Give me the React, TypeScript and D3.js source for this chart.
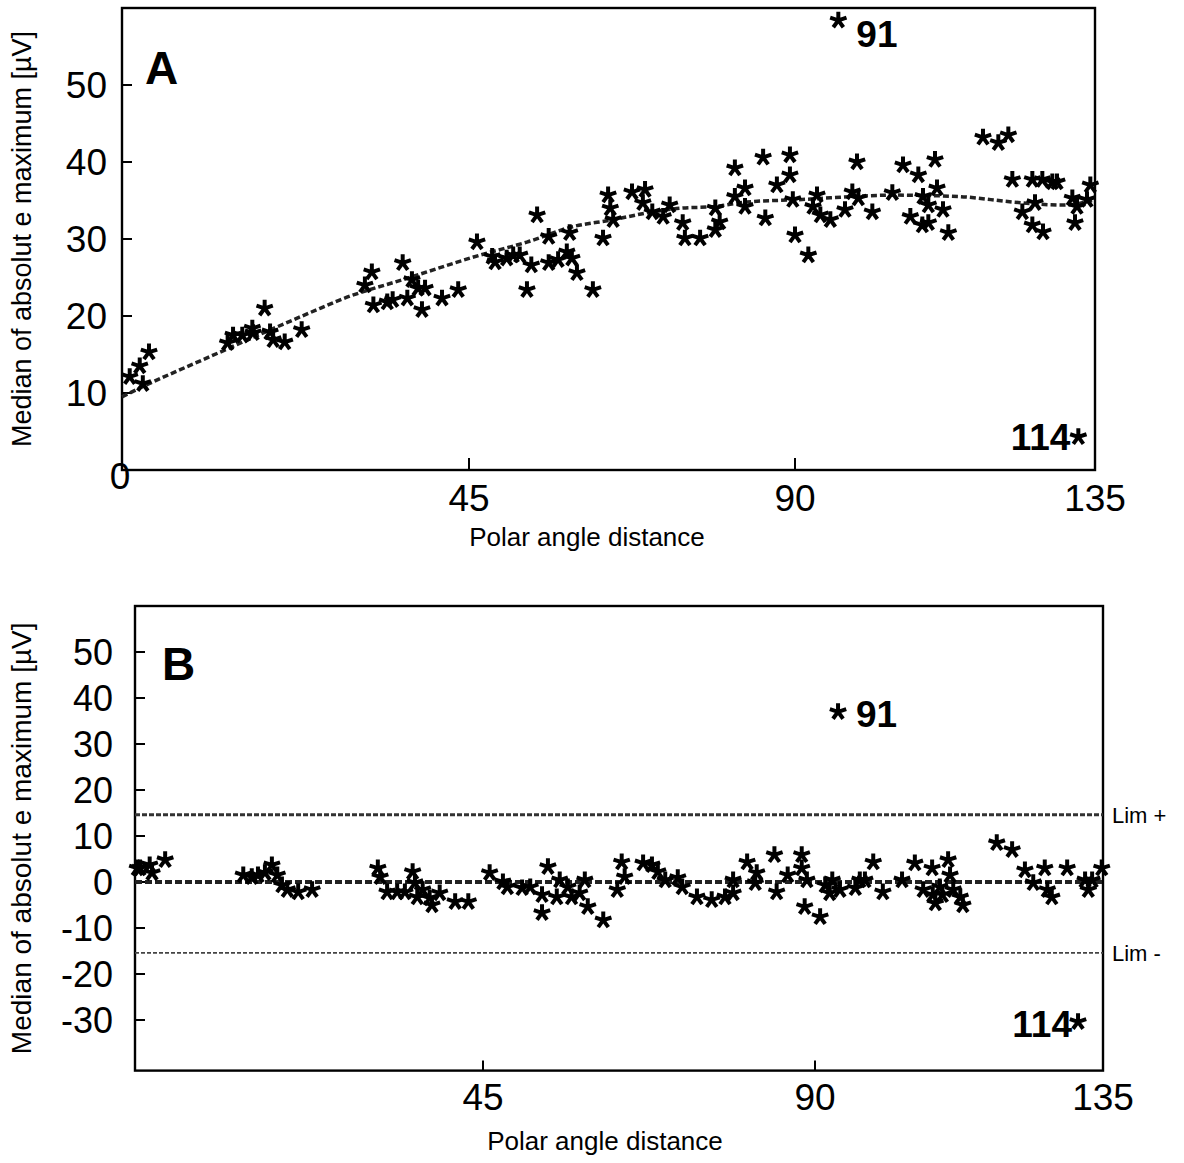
import * as d3 from "d3";

// panel A: median of absolute maximum vs polar angle distance
const angleA = [1.0, 2.3, 3.5, 2.7, 13.7, 14.4, 15.6, 16.9, 17.0, 18.5, 19.2, 19.6, 21.1, 23.3, 32.4, 31.5, 36.4, 32.6, 34.4, 35.1, 37.0, 37.6, 38.4, 39.3, 38.9, 41.5, 43.6, 46.1, 48.2, 48.6, 50.2, 52.0, 53.0, 54.4, 51.1, 53.6, 56.0, 56.0, 57.3, 58.5, 58.9, 59.2, 59.9, 62.1, 63.5, 64.2, 64.5, 64.9, 67.5, 69.3, 69.0, 70.3, 71.8, 72.7, 74.5, 74.8, 76.9, 79.0, 79.6, 79.0, 81.7, 81.7, 83.1, 83.1, 85.6, 85.9, 87.5, 89.3, 89.3, 89.7, 90.0, 92.0, 93.3, 92.7, 93.8, 95.3, 97.5, 98.6, 99.3, 99.5, 101.6, 104.6, 106.2, 108.5, 111.0, 111.3, 109.2, 110.0, 112.2, 107.3, 109.1, 110.0, 113.0, 118.2, 120.5, 122.0, 122.6, 125.6, 127.1, 128.6, 129.3, 124.1, 126.0, 125.6, 127.2, 131.6, 132.3, 132.0, 134.3, 133.8];
const ampA = [12.1, 13.5, 15.3, 11.2, 16.5, 17.5, 17.5, 18.4, 17.8, 21.0, 17.9, 16.9, 16.6, 18.2, 25.7, 24.0, 26.9, 21.4, 21.8, 22.1, 22.3, 24.7, 23.6, 23.6, 20.8, 22.3, 23.4, 29.6, 27.7, 27.0, 27.5, 27.9, 23.4, 33.1, 27.9, 26.6, 30.3, 26.9, 27.3, 28.3, 30.8, 27.5, 25.6, 23.4, 30.1, 35.7, 34.0, 32.5, 36.1, 36.4, 34.7, 33.5, 32.9, 34.4, 32.1, 30.1, 30.1, 31.2, 32.2, 34.0, 39.2, 35.5, 36.6, 34.2, 40.6, 32.7, 37.0, 40.9, 38.3, 35.1, 30.5, 27.9, 35.7, 34.2, 33.1, 32.5, 33.8, 36.1, 40.0, 35.3, 33.5, 36.0, 39.6, 38.3, 40.3, 36.6, 35.5, 34.4, 33.8, 32.9, 31.8, 32.1, 30.8, 43.2, 42.5, 43.5, 37.7, 37.7, 37.7, 37.4, 37.4, 33.5, 34.7, 31.8, 30.9, 35.3, 34.2, 32.1, 37.0, 35.1];
const fitAngleA = [0, 1.0, 12.7, 25.7, 28.3, 37.0, 46.5, 53.0, 59.3, 64.9, 69.6, 74.2, 78.7, 83.4, 90.3, 105.3, 114.8, 122.7, 130.2, 135];
const fitAmpA = [9.5, 10.0, 15.3, 21.0, 22.1, 24.9, 27.9, 29.6, 31.6, 32.5, 33.4, 34.0, 34.2, 34.8, 35.1, 35.7, 35.5, 34.8, 34.4, 35.1];
const outlierIdA = ["91", "114"];
const outlierAngleA = [96.5, 132.5];
const outlierAmpA = [58.4, 4.3];

// panel B: residuals around the fitted median
const angleB = [0.3, 0.65, 1.9, 2.2, 3.9, 14.0, 15.1, 15.9, 16.8, 17.7, 18.4, 19.0, 19.7, 21.1, 22.9, 31.4, 31.7, 32.6, 33.9, 34.9, 35.9, 36.2, 36.5, 37.2, 38.1, 38.4, 39.4, 41.4, 43.1, 45.9, 47.7, 48.3, 50.3, 51.4, 53.0, 53.8, 53.0, 55.4, 55.0, 56.5, 57.0, 58.1, 58.8, 59.2, 61.3, 63.2, 63.8, 64.2, 66.7, 67.9, 68.7, 69.7, 71.4, 72.0, 74.0, 76.0, 77.8, 78.9, 78.9, 80.8, 82.1, 81.9, 84.5, 84.8, 86.3, 88.2, 88.2, 88.6, 88.9, 90.8, 91.6, 92.7, 92.3, 93.9, 96.3, 97.0, 97.8, 99.1, 100.6, 103.6, 105.6, 106.9, 108.3, 108.4, 108.8, 109.5, 109.9, 110.8, 111.1, 111.6, 112.7, 113.1, 118.4, 120.8, 122.8, 124.1, 125.9, 126.3, 127.0, 129.4, 132.2, 132.7, 133.3, 134.8];
const ampB = [3.0, 3.0, 3.7, 2.0, 4.8, 1.5, 1.1, 1.5, 2.0, 3.7, 1.5, -0.7, -1.7, -2.2, -1.7, 3.0, 1.1, -2.2, -2.2, -2.2, 2.2, -0.2, -3.3, -1.7, -3.5, -5.0, -2.4, -4.3, -4.3, 2.0, 0.0, -1.1, -1.3, -1.1, -2.8, 3.3, -6.7, 0.4, -3.3, -1.1, -3.3, -2.4, 0.4, -5.4, -8.3, -1.7, 4.3, 1.1, 4.1, 3.7, 2.2, 0.4, 0.9, -1.1, -3.3, -3.9, -3.3, -2.4, 0.4, 4.3, 2.0, -0.2, 5.9, -2.2, 1.5, 5.9, 3.0, -5.4, 0.4, -7.6, -0.7, 0.4, -2.4, -1.7, -1.3, 0.4, 0.4, 4.3, -2.2, 0.4, 4.1, -1.7, 3.0, -2.8, -4.6, -1.1, -2.8, 4.8, 1.5, -1.7, -3.3, -5.0, 8.5, 7.0, 2.6, -0.2, 3.0, -1.7, -3.3, 3.0, 0.4, -1.7, 0.4, 3.0];
const outlierIdB = ["91", "114"];
const outlierAngleB = [93.6, 131.1];
const outlierAmpB = [37.0, -30.4];
const medianB = 0;
const limPlus = 14.6;
const limMinus = -15.4;

const xTicks = [45, 90, 135];
const yTicksA = [10, 20, 30, 40, 50];
const yTicksB = [50, 40, 30, 20, 10, 0, -10, -20, -30];

const font = "'Liberation Sans', Arial, sans-serif";
const yTitle = "Median of absolut e maximum [\u00b5V]";
const xTitle = "Polar angle distance";

// 5-armed asterisk like the printed "*" glyph
const asterisk = {
  draw(ctx, size) {
    const r = Math.sqrt(size);
    for (let i = 0; i < 5; i++) {
      const a = -Math.PI / 2 + (i * 2 * Math.PI) / 5;
      ctx.moveTo(0, 0);
      ctx.lineTo(r * Math.cos(a), r * Math.sin(a));
    }
  },
};
const starPath = d3.symbol(asterisk, 74)();

function Stars({ xs, ys, x, y }) {
  return (
    <g fill="none" stroke="#000" strokeWidth={4}>
      {xs.map((v, i) => (
        <path key={i} d={starPath} transform={`translate(${x(v)},${y(ys[i])})`} />
      ))}
    </g>
  );
}

function PanelA() {
  const x = d3.scaleLinear().domain([0, 45, 90, 135]).range([122, 469, 795, 1095]);
  const y = d3.scaleLinear().domain([0, 60]).range([470, 8]);
  const fit = d3
    .line()
    .x((d) => x(d[0]))
    .y((d) => y(d[1]))
    .curve(d3.curveMonotoneX)(fitAngleA.map((a, i) => [a, fitAmpA[i]]));
  return (
    <g fontFamily={font}>
      <rect x={x(0)} y={y(60)} width={x(135) - x(0)} height={y(0) - y(60)} fill="none" stroke="#000" strokeWidth={2.4} />
      {yTicksA.map((t) => (
        <g key={t}>
          <line x1={x(0)} x2={x(0) + 10} y1={y(t)} y2={y(t)} stroke="#000" strokeWidth={2} />
          <text x={107} y={y(t)} dy="0.36em" textAnchor="end" fontSize={37}>{t}</text>
        </g>
      ))}
      {xTicks.map((t) => (
        <g key={t}>
          {t < 135 && <line x1={x(t)} x2={x(t)} y1={y(0)} y2={y(0) - 12} stroke="#000" strokeWidth={2} />}
          <text x={x(t)} y={511} textAnchor="middle" fontSize={37}>{t}</text>
        </g>
      ))}
      <text x={x(0) - 2} y={489} textAnchor="middle" fontSize={37}>0</text>
      <path d={fit} fill="none" stroke="#222" strokeWidth={3.5} strokeDasharray="6 3" />
      <Stars xs={angleA} ys={ampA} x={x} y={y} />
      <Stars xs={outlierAngleA} ys={outlierAmpA} x={x} y={y} />
      <text x={x(outlierAngleA[0]) + 18} y={y(outlierAmpA[0]) + 27} fontSize={37} fontWeight="bold">{outlierIdA[0]}</text>
      <text x={x(outlierAngleA[1]) - 8} y={y(outlierAmpA[1]) + 13} textAnchor="end" fontSize={37} fontWeight="bold">{outlierIdA[1]}</text>
      <text x={145} y={84} fontSize={46} fontWeight="bold">A</text>
      <text x={587} y={546} textAnchor="middle" fontSize={26}>{xTitle}</text>
      <text transform={`translate(31,${(y(0) + y(60)) / 2}) rotate(-90)`} textAnchor="middle" fontSize={27}>{yTitle}</text>
    </g>
  );
}

function PanelB() {
  const x = d3.scaleLinear().domain([0, 45, 90, 135]).range([135, 483, 815, 1103]);
  const y = d3.scaleLinear().domain([-41, 60]).range([1070.6, 606]);
  const hline = (v) => `M${x(0)},${y(v)}H${x(135)}`;
  return (
    <g fontFamily={font}>
      <rect x={x(0)} y={y(60)} width={x(135) - x(0)} height={y(-41) - y(60)} fill="none" stroke="#000" strokeWidth={2.4} />
      {yTicksB.map((t) => (
        <g key={t}>
          <line x1={x(0)} x2={x(0) + 10} y1={y(t)} y2={y(t)} stroke="#000" strokeWidth={2} />
          <text x={113} y={y(t)} dy="0.36em" textAnchor="end" fontSize={36}>{t}</text>
        </g>
      ))}
      {xTicks.map((t) => (
        <g key={t}>
          {t < 135 && <line x1={x(t)} x2={x(t)} y1={y(-41)} y2={y(-41) - 10} stroke="#000" strokeWidth={2} />}
          <text x={x(t)} y={1110} textAnchor="middle" fontSize={37}>{t}</text>
        </g>
      ))}
      <path d={hline(limPlus)} stroke="#333" strokeWidth={3} strokeDasharray="5 2" />
      <path d={hline(limMinus)} stroke="#444" strokeWidth={1.8} strokeDasharray="4 2" />
      <path d={hline(medianB)} stroke="#222" strokeWidth={3.8} strokeDasharray="7 3" />
      <text x={1112} y={y(limPlus) + 8} fontSize={22}>Lim +</text>
      <text x={1112} y={y(limMinus) + 8} fontSize={22}>Lim -</text>
      <Stars xs={angleB} ys={ampB} x={x} y={y} />
      <Stars xs={outlierAngleB} ys={outlierAmpB} x={x} y={y} />
      <text x={x(outlierAngleB[0]) + 18} y={y(outlierAmpB[0]) + 15} fontSize={37} fontWeight="bold">{outlierIdB[0]}</text>
      <text x={x(outlierAngleB[1]) - 6} y={y(outlierAmpB[1]) + 15} textAnchor="end" fontSize={37} fontWeight="bold">{outlierIdB[1]}</text>
      <text x={162} y={680} fontSize={46} fontWeight="bold">B</text>
      <text x={605} y={1150} textAnchor="middle" fontSize={26}>{xTitle}</text>
      <text transform={`translate(31,${(y(-41) + y(60)) / 2}) rotate(-90)`} textAnchor="middle" fontSize={28}>{yTitle}</text>
    </g>
  );
}

export default function App() {
  return (
    <div style={{ position: "absolute", left: 0, top: 0 }}>
      <svg width={1184} height={1163} style={{ display: "block", background: "#fff" }}>
        <PanelA />
        <PanelB />
      </svg>
    </div>
  );
}
